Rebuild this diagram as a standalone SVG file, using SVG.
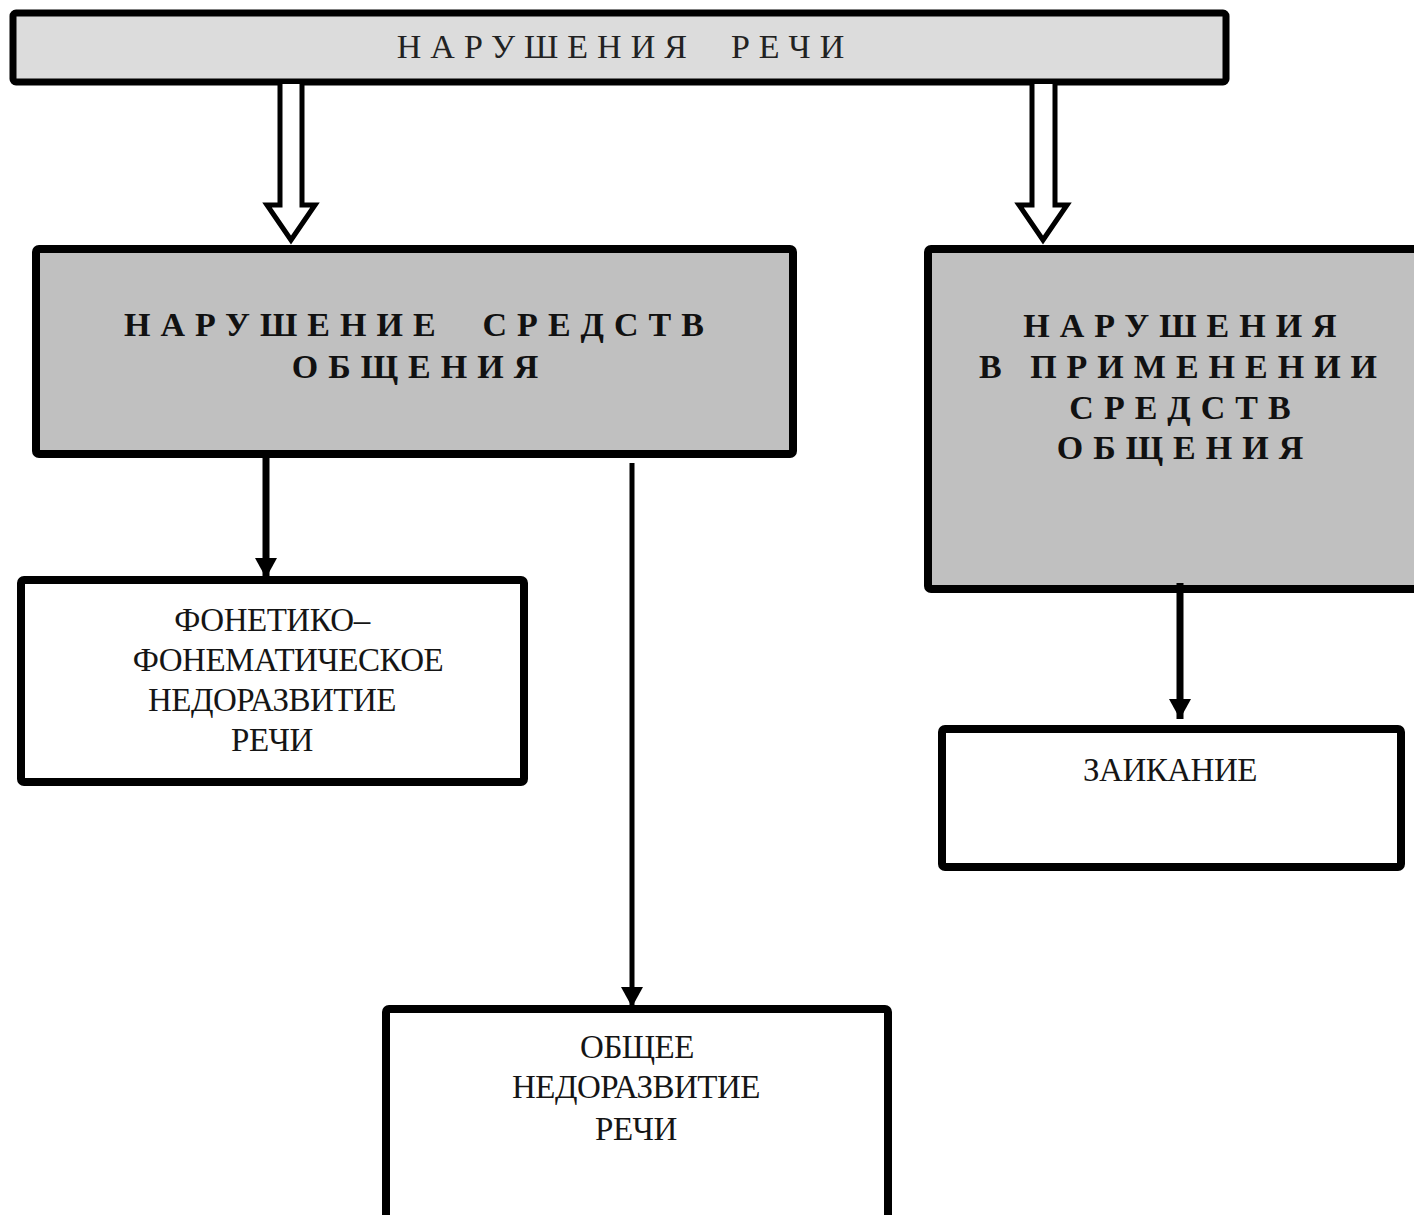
<svg xmlns="http://www.w3.org/2000/svg" width="1414" height="1215" viewBox="0 0 1414 1215">
<style>
.box{stroke:#000;stroke-width:8;stroke-linejoin:round}
.top{fill:#dcdcdc;stroke-width:7}
.grey{fill:#c0c0c0}
.white{fill:#fff}
.reg{font-family:"Liberation Serif","DejaVu Serif",serif;fill:#151515;text-anchor:middle;font-size:33px;letter-spacing:-0.5px}
.title{font-family:"Liberation Serif","DejaVu Serif",serif;fill:#222;text-anchor:middle;font-size:34px;letter-spacing:9px}
.bold{font-family:"Liberation Serif","DejaVu Serif",serif;font-weight:bold;fill:#111;text-anchor:middle;font-size:34px;letter-spacing:10px}
.line{stroke:#000;fill:none}
.hollow{fill:#fff;stroke:#000;stroke-width:5;stroke-linejoin:miter}
</style>
<defs>
<marker id="tri" markerUnits="userSpaceOnUse" markerWidth="22" markerHeight="22" refX="20" refY="11" orient="auto" viewBox="0 0 22 22">
<path d="M0,0 L20,11 L0,22 Z" fill="#000"/>
</marker>
</defs>
<rect width="1414" height="1215" fill="#fff"/>

<g id="node-top">
<rect class="box top" x="13" y="13" width="1213" height="69" rx="3"/>
<text class="title" x="625" y="58">НАРУШЕНИЯ&#160;&#160;РЕЧИ</text>
</g>

<g id="node-means">
<rect class="box grey" x="36" y="249" width="757" height="205" rx="3"/>
<text class="bold" x="419" y="336" letter-spacing="9.5">НАРУШЕНИЕ&#160;&#160;СРЕДСТВ</text>
<text class="bold" x="420" y="378">ОБЩЕНИЯ</text>
</g>

<g id="node-usage">
<rect class="box grey" x="928" y="249" width="500" height="340" rx="3"/>
<text class="bold" x="1185" y="337">НАРУШЕНИЯ</text>
<text class="bold" x="1183" y="378">В ПРИМЕНЕНИИ</text>
<text class="bold" x="1185" y="419">СРЕДСТВ</text>
<text class="bold" x="1185" y="459">ОБЩЕНИЯ</text>
</g>

<g id="node-ffn">
<rect class="box white" x="21" y="580" width="503" height="202" rx="3"/>
<text class="reg" x="272" y="631">ФОНЕТИКО–</text>
<text class="reg" x="288" y="671">ФОНЕМАТИЧЕСКОЕ</text>
<text class="reg" x="272" y="711">НЕДОРАЗВИТИЕ</text>
<text class="reg" x="272" y="751">РЕЧИ</text>
</g>

<g id="node-onr">
<rect class="box white" x="386" y="1009" width="502" height="210" rx="3"/>
<text class="reg" x="637" y="1058">ОБЩЕЕ</text>
<text class="reg" x="636" y="1098">НЕДОРАЗВИТИЕ</text>
<text class="reg" x="636" y="1140">РЕЧИ</text>
</g>

<g id="node-stutter">
<rect class="box white" x="942" y="729" width="459" height="138" rx="3"/>
<text class="reg" x="1170" y="781">ЗАИКАНИЕ</text>
</g>

<g id="connectors">
<path class="hollow" d="M280,84 V205 H267 L291,240 L315,205 H302 V84"/>
<path class="hollow" d="M1032,84 V205 H1019 L1043,240 L1067,205 H1055 V84"/>
<line class="line" x1="266" y1="450" x2="266" y2="578" stroke-width="7" marker-end="url(#tri)"/>
<line class="line" x1="632" y1="463" x2="632" y2="1007" stroke-width="5" marker-end="url(#tri)"/>
<line class="line" x1="1180" y1="583" x2="1180" y2="719" stroke-width="7" marker-end="url(#tri)"/>
</g>
</svg>
